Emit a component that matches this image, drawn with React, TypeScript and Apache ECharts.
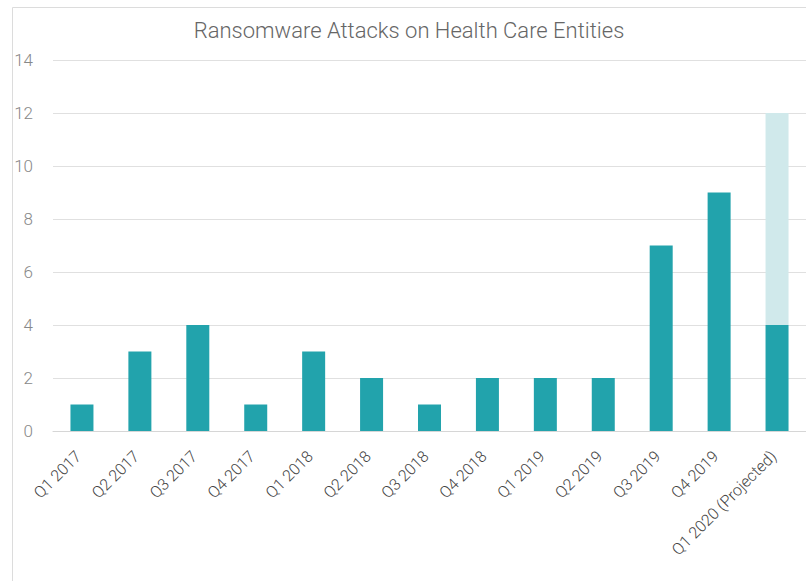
import React, { useEffect, useRef } from "react";
import * as echarts from "echarts";

const categories = [
  "Q1 2017", "Q2 2017", "Q3 2017", "Q4 2017",
  "Q1 2018", "Q2 2018", "Q3 2018", "Q4 2018",
  "Q1 2019", "Q2 2019", "Q3 2019", "Q4 2019",
  "Q1 2020 (Projected)",
];
const attacks = [1, 3, 4, 1, 3, 2, 1, 2, 2, 2, 7, 9, 4];
const projectedExtra = ["-", "-", "-", "-", "-", "-", "-", "-", "-", "-", "-", "-", 8];
const yTicks = { min: 0, max: 14, interval: 2 };
const title = "Ransomware Attacks on Health Care Entities";

export default function App() {
  const ref = useRef<HTMLDivElement>(null);
  useEffect(() => {
    document.body.style.margin = "0";
    const chart = echarts.init(ref.current!, undefined, { renderer: "svg" });
    chart.setOption({
      animation: false,
      textStyle: { fontFamily: "Roboto" },
      title: {
        text: title,
        left: 409,
        top: 19,
        padding: 0,
        textAlign: "center",
        textStyle: { fontSize: 22, fontWeight: 300, color: "#666", fontFamily: "Roboto" },
      },
      graphic: [
        {
          type: "rect",
          shape: { x: 12.5, y: 7.5, width: 900, height: 700 },
          style: { fill: "none", stroke: "#dcdcdc", lineWidth: 1 },
          silent: true,
          z: -10,
        },
      ],
      grid: { left: 53, right: 0, top: 60, bottom: 150, containLabel: false },
      xAxis: {
        type: "category",
        data: categories,
        axisLine: { lineStyle: { color: "#d6d6d6", width: 1 } },
        axisTick: { show: false },
        axisLabel: {
          rotate: 45,
          fontSize: 16,
          color: "#444",
          margin: 19,
          padding: [0, 5, 0, 0],
          interval: 0,
          fontFamily: "Roboto",
          fontWeight: 300,
        },
      },
      yAxis: {
        type: "value",
        min: yTicks.min,
        max: yTicks.max,
        interval: yTicks.interval,
        axisLine: { show: false },
        axisTick: { show: false },
        axisLabel: { fontSize: 17, color: "#888", margin: 20, fontFamily: "Roboto", fontWeight: 300 },
        splitLine: { lineStyle: { color: "#e0e0e0", width: 1 } },
      },
      series: [
        {
          type: "bar",
          stack: "total",
          data: attacks,
          barWidth: 23,
          itemStyle: { color: "#22a3ac" },
        },
        {
          type: "bar",
          stack: "total",
          data: projectedExtra,
          barWidth: 23,
          itemStyle: { color: "#d0e9eb" },
        },
      ],
    });
    return () => chart.dispose();
  }, []);
  return <div ref={ref} style={{ width: 806, height: 581 }} />;
}
